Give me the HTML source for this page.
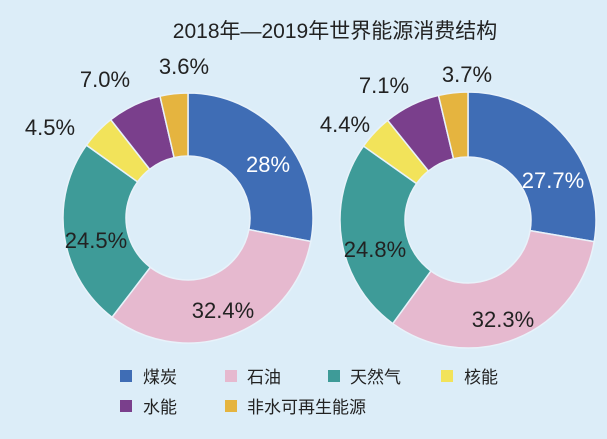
<!DOCTYPE html>
<html><head><meta charset="utf-8"><style>
body{margin:0;width:607px;height:439px;overflow:hidden;background:#dcedf8;}
svg{display:block}
text{font-family:"Liberation Sans","Noto Sans CJK SC",sans-serif;}
</style></head><body>
<svg id="s" width="607" height="439" xmlns="http://www.w3.org/2000/svg">
<rect width="607" height="439" fill="#dcedf8"/>
<text x="335" y="38" font-size="21" text-anchor="middle" fill="#222">2018年—2019年世界能源消费结构</text>
<g id="d"></g>
<g font-size="22" fill="#222" text-anchor="middle">
<text x="268" y="172" fill="#fff">28%</text>
<text x="223" y="318">32.4%</text>
<text x="96" y="248">24.5%</text>
<text x="50" y="135">4.5%</text>
<text x="105" y="87">7.0%</text>
<text x="184" y="74">3.6%</text>
<text x="553" y="188" fill="#fff">27.7%</text>
<text x="503" y="327">32.3%</text>
<text x="375" y="257">24.8%</text>
<text x="345" y="132">4.4%</text>
<text x="384" y="93">7.1%</text>
<text x="467" y="82">3.7%</text>
</g>
<g font-size="17" fill="#222">
<rect x="120" y="370" width="12" height="12" fill="#3f6db5"/><text x="143" y="383">煤炭</text>
<rect x="225" y="370" width="12" height="12" fill="#e6b9cf"/><text x="247" y="383">石油</text>
<rect x="328" y="370" width="12" height="12" fill="#3e9b98"/><text x="350" y="383">天然气</text>
<rect x="441" y="370" width="12" height="12" fill="#f2e35a"/><text x="464" y="383">核能</text>
<rect x="120" y="400" width="12" height="12" fill="#7a3f8c"/><text x="143" y="413">水能</text>
<rect x="225" y="400" width="12" height="12" fill="#e5b43f"/><text x="247" y="413">非水可再生能源</text>
</g>
</svg>
<script>
var cols=["#3f6db5","#e6b9cf","#3e9b98","#f2e35a","#7a3f8c","#e5b43f"];
function donut(cx,cy,R,r,vals){
 var g=document.getElementById("d"),a=0,tot=vals.reduce((x,y)=>x+y,0),h="";
 vals.forEach(function(v,i){
  var a0=a/tot*2*Math.PI,a1=(a+v)/tot*2*Math.PI;a+=v;
  function p(rr,t){return (cx+rr*Math.sin(t)).toFixed(2)+","+(cy-rr*Math.cos(t)).toFixed(2);}
  var l=(a1-a0)>Math.PI?1:0;
  h+='<path d="M'+p(R,a0)+' A'+R+','+R+' 0 '+l+' 1 '+p(R,a1)+' L'+p(r,a1)+' A'+r+','+r+' 0 '+l+' 0 '+p(r,a0)+' Z" fill="'+cols[i]+'" stroke="#e8f2fa" stroke-width="1.5"/>';
 });
 g.innerHTML+=h;
}
donut(188,218,125,62,[28,32.4,24.5,4.5,7.0,3.6]);
donut(468,220,128,63,[27.7,32.3,24.8,4.4,7.1,3.7]);
</script>
</body></html>
